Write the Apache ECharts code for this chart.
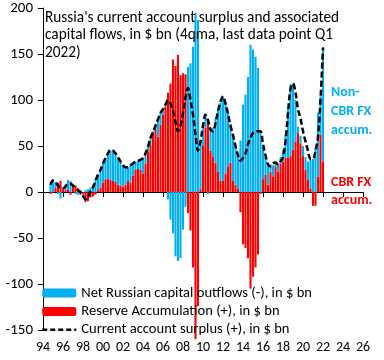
<!DOCTYPE html>
<html>
<head>
<meta charset="utf-8">
<script src="https://cdn.jsdelivr.net/npm/echarts@6/dist/echarts.min.js"></script>
<style>
html,body{margin:0;padding:0;background:#fff;}
#chart{width:384px;height:360px;}
</style>
</head>
<body>
<div id="chart"></div>
<script>
// Quarterly observations, 1994Q4 .. 2022Q1 (4-quarter moving sums, $ bn)
const quarters = [
  "1994Q4",
  "1995Q1","1995Q2","1995Q3","1995Q4","1996Q1","1996Q2","1996Q3","1996Q4",
  "1997Q1","1997Q2","1997Q3","1997Q4","1998Q1","1998Q2","1998Q3","1998Q4",
  "1999Q1","1999Q2","1999Q3","1999Q4","2000Q1","2000Q2","2000Q3","2000Q4",
  "2001Q1","2001Q2","2001Q3","2001Q4","2002Q1","2002Q2","2002Q3","2002Q4",
  "2003Q1","2003Q2","2003Q3","2003Q4","2004Q1","2004Q2","2004Q3","2004Q4",
  "2005Q1","2005Q2","2005Q3","2005Q4","2006Q1","2006Q2","2006Q3","2006Q4",
  "2007Q1","2007Q2","2007Q3","2007Q4","2008Q1","2008Q2","2008Q3","2008Q4",
  "2009Q1","2009Q2","2009Q3","2009Q4","2010Q1","2010Q2","2010Q3","2010Q4",
  "2011Q1","2011Q2","2011Q3","2011Q4","2012Q1","2012Q2","2012Q3","2012Q4",
  "2013Q1","2013Q2","2013Q3","2013Q4","2014Q1","2014Q2","2014Q3","2014Q4",
  "2015Q1","2015Q2","2015Q3","2015Q4","2016Q1","2016Q2","2016Q3","2016Q4",
  "2017Q1","2017Q2","2017Q3","2017Q4","2018Q1","2018Q2","2018Q3","2018Q4",
  "2019Q1","2019Q2","2019Q3","2019Q4","2020Q1","2020Q2","2020Q3","2020Q4",
  "2021Q1","2021Q2","2021Q3","2021Q4","2022Q1"
];
// Reserve accumulation (+), $ bn
const reserves = [
  -2,
  -1, 5, 10, 12,   3, 2, 3, -3,
  8, 7, 4, -3,     -2, -11, -10, -6,
  -5, -3, 2, 5,    10, 14, 14, 13,
  12, 11, 8, 7,    6, 8, 12, 10,
  18, 24, 25, 24,  20, 31, 44, 51,
  64, 68, 60, 73,  84, 93, 108, 118,
  144, 137, 149, 127,  129, 128, -23, -42,
  -82, -160, -124, 3,  50, 70, 76, 45,
  38, 32, 22, 12,  12, 20, 28, 32,
  12, 8, 4, -22,   -57, -61, -72, -105,
  -92, -82, -68, -2,  14, 19, 8, 22,
  17, 28, 22, 31,  33, 37, 37, 39,
  46, 55, 64, 53,  39, 24, 13, 4,
  -15, -15, 17, 62,  33
];
// Net Russian capital outflows (-), $ bn
const outflows = [
  9,
  13, 6, -2, -7,   2, 6, 10, 12,
  0, -2, -3, 2,    -3, 2, 3, 5,
  8, 14, 17, 19,   21, 23, 28, 32,
  32, 30, 29, 25,  22, 19, 15, 19,
  14, 9, 9, 11,    17, 11, 5, 8,
  2, 5, 19, 13,    6, 2, -8, -30,
  -45, -70, -75, -72,  -41, -16, 136, 140,
  158, 195, 187, 52,   25, 14, -2, 25,
  32, 48, 68, 85,  92, 78, 58, 42,
  50, 42, 36, 56,  95, 106, 125, 160,
  155, 147, 135, 66,  35, 20, 20, 8,
  12, 5, 9, 7,     13, 25, 53, 78,
  72, 45, 7, 8,    11, 14, 20, 31,
  36, 48, 69, 42,  124
];
// Current account surplus (+), $ bn
const currentAccount = [
  8,
  12.5, 11, 7, 4.5,  4, 6, 9, 9,
  7, 5, 2, 0,      -4, -8, -6, 1,
  5, 12, 19, 24,   31, 37, 42, 46,
  45, 42, 38, 33,  29, 27, 27, 29,
  31, 33, 34, 35,  37, 42, 49, 59,
  65, 72, 79, 86,  90, 95, 100, 96,
  88, 76, 66, 72,  86, 103, 113, 100,
  84, 62, 45, 55,  72, 84, 78, 68,
  66, 75, 88, 98,  104, 96, 85, 72,
  62, 50, 40, 34,  37, 42, 52, 59,
  64, 66, 66, 66,  52, 40, 30, 28,
  31, 32, 30, 33,  38, 55, 86, 112,
  118, 108, 90, 80,  66, 55, 45, 36,
  36, 45, 60, 100,  157
];
const yTicks = [-150, -100, -50, 0, 50, 100, 150, 200];
const xYears = [1994, 2026];   // axis runs from 1994Q1 to 2026Q1

const names = {
  out: "Net Russian capital outflows (-), in $ bn",
  res: "Reserve Accumulation (+), in $ bn",
  ca: "Current account surplus (+), in $ bn"
};

// axis categories (one per quarter) and lookup of the observations onto them
const axisCats = [];
for (let y = xYears[0]; y <= xYears[1]; y++) {
  for (let q = 1; q <= 4; q++) {
    axisCats.push(y + "Q" + q);
    if (y === xYears[1]) break;
  }
}
const pos = new Map(quarters.map((c, i) => [c, i]));
const onAxis = arr => axisCats.map(c => pos.has(c) ? arr[pos.get(c)] : null);

const FONT = "Carlito, Lato, 'Liberation Sans', sans-serif";
const yearLabel = v => v.slice(2, 4);
const showEvery2y = (i, v) => v.endsWith("Q1") && (parseInt(v.slice(0, 4), 10) - xYears[0]) % 2 === 0;

const chart = echarts.init(document.getElementById('chart'), null, {renderer: 'canvas'});
chart.setOption({
  animation: false,
  backgroundColor: '#ffffff',
  textStyle: {fontFamily: FONT},
  title: {
    text: "Russia's current account surplus and associated\ncapital flows, in $ bn (4qma, last data point Q1\n2022)",
    left: 45, top: 5, padding: [4, 0, 0, 0],
    textStyle: {fontFamily: FONT, fontSize: 15.3, fontWeight: 'normal', color: '#000', lineHeight: 17.5}
  },
  grid: {left: 43, right: 21, top: 8, bottom: 30, containLabel: false},
  legend: {
    orient: 'vertical', left: 41, top: 285, padding: 0,
    itemWidth: 34, itemHeight: 9, itemGap: 2.4,
    textStyle: {fontFamily: FONT, fontSize: 14.6, color: '#000', lineHeight: 16},
    data: [
      {name: names.out},
      {name: names.res},
      {name: names.ca, itemStyle: {opacity: 0}, lineStyle: {color: '#000', width: 2.5, type: [5, 3]}}
    ]
  },
  xAxis: [
    {
      type: 'category', data: axisCats, boundaryGap: false,
      axisLine: {show: true, onZero: true, lineStyle: {color: '#000', width: 1}},
      axisTick: {show: true, length: 5, interval: showEvery2y, lineStyle: {color: '#000'}},
      axisLabel: {show: false},
      splitLine: {show: false}
    },
    {
      type: 'category', data: axisCats, boundaryGap: false, position: 'bottom',
      axisLine: {show: false, onZero: false},
      axisTick: {show: false},
      axisLabel: {show: true, margin: 10, fontSize: 14, color: '#000', fontFamily: FONT,
        interval: showEvery2y, formatter: yearLabel},
      splitLine: {show: false}
    }
  ],
  yAxis: {
    type: 'value', min: yTicks[0], max: yTicks[yTicks.length - 1], interval: 50,
    axisLine: {show: true, lineStyle: {color: '#000', width: 1}},
    axisTick: {show: true, length: 5, lineStyle: {color: '#000'}},
    axisLabel: {margin: 10, fontSize: 15, color: '#000', fontFamily: FONT},
    splitLine: {show: false}
  },
  series: [
    {
      name: names.res, type: 'bar', stack: 'flows', xAxisIndex: 0,
      barWidth: 2.1, clip: false,
      itemStyle: {color: '#FF0000'},
      data: onAxis(reserves)
    },
    {
      name: names.out, type: 'bar', stack: 'flows', xAxisIndex: 0,
      barWidth: 2.1, clip: false,
      itemStyle: {color: '#00B0F0'},
      data: onAxis(outflows)
    },
    {
      name: names.ca, type: 'line', xAxisIndex: 0,
      symbol: 'none', smooth: 0.35, connectNulls: false,
      lineStyle: {color: '#000', width: 2.5, type: [6, 3]},
      itemStyle: {color: '#000'},
      data: onAxis(currentAccount)
    }
  ],
  graphic: [
    {type: 'text', left: 331, top: 83, z: 10,
      style: {text: 'Non-\nCBR FX\naccum.', fill: '#00B0F0', font: 'bold 14px ' + FONT, lineHeight: 19}},
    {type: 'text', left: 331, top: 173, z: 10,
      style: {text: 'CBR FX\naccum.', fill: '#FF0000', font: 'bold 14px ' + FONT, lineHeight: 18.5}}
  ]
});
</script>
</body>
</html>
